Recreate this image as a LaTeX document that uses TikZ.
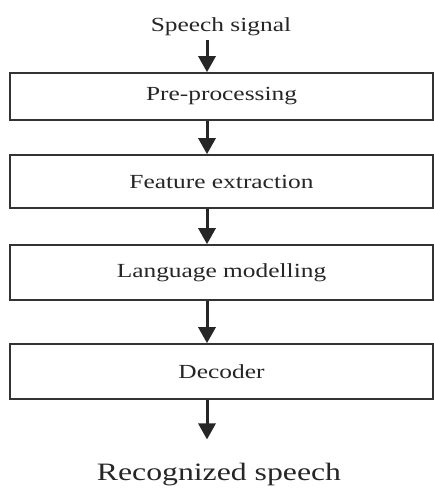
\documentclass[tikz,border=0pt]{standalone}
\usepackage{fontspec}
\setmainfont{Liberation Serif}[FakeStretch=1.27]
\usetikzlibrary{arrows.meta}

\begin{document}
\begin{tikzpicture}[x=1pt,y=-1pt,>={Triangle[width=17pt,length=16pt]},
  stage/.style={draw=black!80,line width=1.6pt,minimum width=423pt,inner sep=0pt,
    font=\fontsize{20}{24}\selectfont,text=black!85},
  flow/.style={->,line width=3pt,black!85}]
\useasboundingbox (0,0) rectangle (434,491);
% 1. input and output
\coordinate (ax) at (207,0);
\node[anchor=base,inner sep=0pt,text=black!85,font=\fontsize{20}{24}\selectfont] (sig) at (221,31) {Speech signal};
\node[anchor=base,inner sep=0pt,text=black!85,font=\fontsize{25}{30}\selectfont] (rec) at (219,480) {Recognized speech};

% 2. stages
\node[stage,minimum height=47pt] (pre) at (221.5,96.5) {Pre-processing};
\node[stage,minimum height=53pt] (fea) at (221.5,181.5) {Feature extraction};
\node[stage,minimum height=55pt] (lan) at (221.5,272.5) {Language modelling};
\node[stage,minimum height=55pt] (dec) at (221.5,371.5) {Decoder};

% 3. arrows
\draw[flow, shorten <=4.5pt] (sig.south -| ax) -- (pre.north -| ax);
\draw[flow] (pre.south -| ax) -- (fea.north -| ax);
\draw[flow] (fea.south -| ax) -- (lan.north -| ax);
\draw[flow] (lan.south -| ax) -- (dec.north -| ax);
\draw[flow, shorten >=23pt] (dec.south -| ax) -- (rec.north -| ax);
\end{tikzpicture}
\end{document}
